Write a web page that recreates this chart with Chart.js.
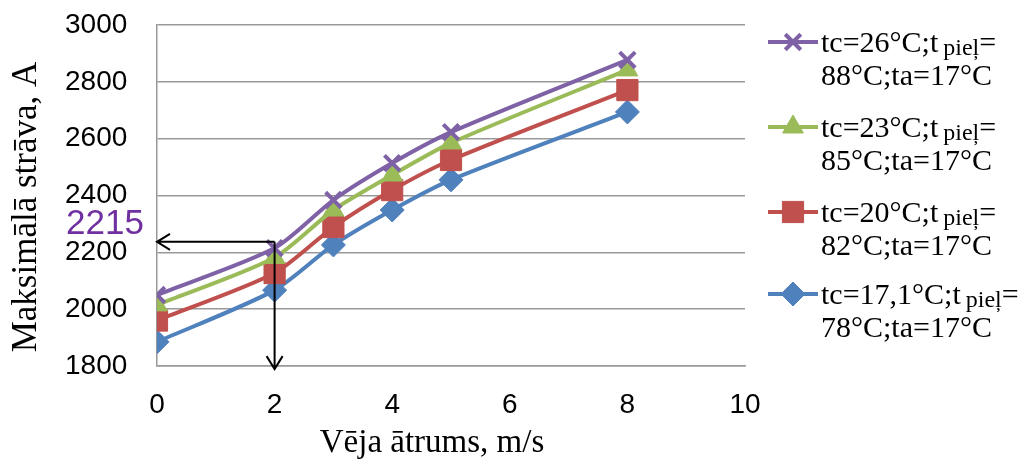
<!DOCTYPE html>
<html>
<head>
<meta charset="utf-8">
<script src="https://cdn.jsdelivr.net/npm/chart.js@4/dist/chart.umd.min.js"></script>
<style>
html,body{margin:0;padding:0;background:#fff;}
#wrap{width:1025px;height:461px;position:relative;}
</style>
</head>
<body>
<div id="wrap"><canvas id="c" width="1025" height="461"></canvas></div>
<script>
const windSpeed = [0, 2, 3, 4, 5, 8];
const seriesPurple = [2050, 2215, 2384, 2514, 2623, 2877];
const seriesGreen  = [2015, 2182, 2349, 2472, 2585, 2842];
const seriesRed    = [1960, 2127, 2289, 2419, 2525, 2771];
const seriesBlue   = [1885, 2067, 2226, 2349, 2455, 2694];
const legendLine1 = ['tc=26°C;t', 'tc=23°C;t', 'tc=20°C;t', 'tc=17,1°C;t'];
const legendLine2 = ['88°C;ta=17°C', '85°C;ta=17°C', '82°C;ta=17°C', '78°C;ta=17°C'];
const subText = 'pieļ';
const yTitle = 'Maksimālā strāva, A';
const xTitle = 'Vēja ātrums, m/s';
const markValue = 2215;
const markX = 2;
const arrowY = 2237;
const arrowBottom = 1789;

const pts = arr => windSpeed.map((x, i) => ({x: x, y: arr[i]}));

const series = [
  {label: legendLine1[0] + subText + '= ' + legendLine2[0], data: pts(seriesPurple), color: '#7F62A6', style: 'crossRot', r: 11, bw: 4},
  {label: legendLine1[1] + subText + '= ' + legendLine2[1], data: pts(seriesGreen),  color: '#9BBB59', style: 'triangle', r: 12, bw: 1},
  {label: legendLine1[2] + subText + '= ' + legendLine2[2], data: pts(seriesRed),    color: '#C0504D', style: 'rect', r: 15, bw: 1},
  {label: legendLine1[3] + subText + '= ' + legendLine2[3], data: pts(seriesBlue),   color: '#4F81BD', style: 'rectRot', r: 12, bw: 1}
];

const datasets = series.map(s => ({
  label: s.label,
  data: s.data,
  borderColor: s.color,
  backgroundColor: s.color,
  borderWidth: 4,
  pointStyle: s.style,
  pointRadius: s.r,
  pointBorderWidth: s.bw,
  pointBorderColor: s.color,
  pointBackgroundColor: s.color,
  tension: 0.25,
  fill: false
}));

const overlay = {
  id: 'overlay',
  afterDatasetsDraw(chart) {
    const ctx = chart.ctx;
    const xs = chart.scales.x, ys = chart.scales.y;
    const px = xs.getPixelForValue(markX);
    const py = ys.getPixelForValue(arrowY);
    const p0 = xs.getPixelForValue(0);
    const pb = ys.getPixelForValue(arrowBottom);
    ctx.save();
    ctx.strokeStyle = '#000';
    ctx.lineWidth = 2;
    ctx.beginPath();
    ctx.moveTo(px, py); ctx.lineTo(p0, py);
    ctx.moveTo(px, py); ctx.lineTo(px, pb);
    ctx.moveTo(p0 + 13, py - 8); ctx.lineTo(p0, py); ctx.lineTo(p0 + 13, py + 8);
    ctx.moveTo(px - 8, pb - 13); ctx.lineTo(px, pb); ctx.lineTo(px + 8, pb - 13);
    ctx.stroke();
    ctx.fillStyle = '#7030A0';
    ctx.font = '35px "Liberation Sans", Arial, sans-serif';
    ctx.textAlign = 'left';
    ctx.textBaseline = 'alphabetic';
    ctx.fillText(String(markValue), 66, 234);
    ctx.restore();
  },
  afterDraw(chart) {
    const ctx = chart.ctx;
    ctx.save();
    ctx.fillStyle = '#000';
    ctx.font = '33px "Liberation Serif", "Times New Roman", serif';
    ctx.textAlign = 'center';
    ctx.textBaseline = 'alphabetic';
    ctx.fillText(xTitle, 432, 452);
    ctx.save();
    ctx.translate(36, 207);
    ctx.rotate(-Math.PI / 2);
    ctx.font = '35px "Liberation Serif", "Times New Roman", serif';
    ctx.fillText(yTitle, 0, 0);
    ctx.restore();
    const baseY = [52, 137, 222, 304];
    series.forEach((s, i) => {
      const y = baseY[i] - 10;
      ctx.strokeStyle = s.color;
      ctx.lineWidth = 4;
      ctx.beginPath();
      ctx.moveTo(768, y); ctx.lineTo(818, y);
      ctx.stroke();
      if (Chart.helpers && Chart.helpers.drawPoint) {
        ctx.fillStyle = s.color;
        ctx.strokeStyle = s.color;
        ctx.lineWidth = s.bw;
        Chart.helpers.drawPoint(ctx, {pointStyle: s.style, radius: s.r, rotation: 0, borderWidth: s.bw}, 793, y);
      }
      ctx.fillStyle = '#000';
      ctx.textAlign = 'left';
      ctx.textBaseline = 'alphabetic';
      ctx.font = '30px "Liberation Serif", "Times New Roman", serif';
      let x = 821;
      ctx.fillText(legendLine1[i], x, baseY[i]);
      x += ctx.measureText(legendLine1[i]).width + 5;
      ctx.font = '24px "Liberation Serif", "Times New Roman", serif';
      ctx.fillText(subText, x, baseY[i] + 3);
      x += ctx.measureText(subText).width;
      ctx.font = '30px "Liberation Serif", "Times New Roman", serif';
      ctx.fillText('=', x, baseY[i]);
      ctx.fillText(legendLine2[i], 821, baseY[i] + 33);
    });
    ctx.restore();
  }
};

new Chart(document.getElementById('c'), {
  type: 'line',
  data: {datasets: datasets},
  plugins: [overlay],
  options: {
    responsive: false,
    animation: false,
    devicePixelRatio: 1,
    layout: {padding: {top: 25, right: 280, left: 65, bottom: 0}},
    plugins: {legend: {display: false}, tooltip: {enabled: false}},
    scales: {
      x: {
        type: 'linear', min: 0, max: 10,
        afterFit(scale) { scale.height = 95; },
        ticks: {stepSize: 2, color: '#000', padding: 22, font: {family: '"Liberation Sans", Arial, sans-serif', size: 28}},
        grid: {display: false, drawTicks: false},
        border: {display: true, color: '#999', width: 1.5}
      },
      y: {
        min: 1800, max: 3000,
        afterFit(scale) { scale.width = 92; },
        ticks: {stepSize: 200, color: '#000', padding: 0, crossAlign: 'far', font: {family: '"Liberation Sans", Arial, sans-serif', size: 28},
          callback: v => String(v)},
        grid: {color: '#999', lineWidth: 1.5, drawTicks: false},
        border: {display: true, color: '#999', width: 1.5}
      }
    }
  }
});
</script>
</body>
</html>
